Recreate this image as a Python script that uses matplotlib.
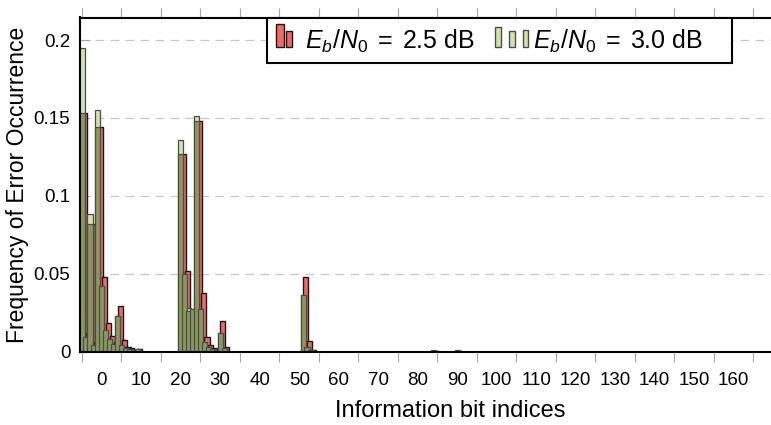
"""Error occurrence per information bit (two Eb/N0 points)"""

import numpy as np
import matplotlib
matplotlib.use('Agg')
import matplotlib.pyplot as plt
from matplotlib.patches import Rectangle

# Information bit index and error frequency for each SNR point
bit_idx = [0, 1, 2, 3, 4, 5, 6, 7, 8, 9, 10, 11, 12, 13, 14,
           25, 26, 27, 28, 29, 30, 31, 32, 33, 34, 35, 36,
           56, 57, 58, 89, 95]
freq_25db = [0.153, 0.012, 0.082, 0.006, 0.144, 0.048, 0.018, 0.010, 0.006, 0.029,
             0.0077, 0.003, 0.002, 0.0012, 0.0015,
             0.127, 0.052, 0.026, 0.027, 0.148, 0.0375, 0.0095, 0.004, 0.002, 0.001,
             0.0193, 0.003,
             0.048, 0.007, 0.001, 0.0006, 0.0006]
freq_30db = [0.195, 0.009, 0.088, 0.004, 0.155, 0.042, 0.014, 0.008, 0.005, 0.0225,
             0.004, 0.002, 0.0015, 0.001, 0.0015,
             0.136, 0.050, 0.028, 0.027, 0.151, 0.027, 0.006, 0.003, 0.0015, 0.001,
             0.012, 0.002,
             0.0365, 0.003, 0.0008, 0.0009, 0.0009]

xtick_labels = [str(v) for v in range(0, 170, 10)]
ytick_values = [0, 0.05, 0.1, 0.15, 0.2]
ytick_labels = ['0', '0.05', '0.1', '0.15', '0.2']

plt.rcParams['font.family'] = ['Liberation Sans', 'DejaVu Sans']
plt.rcParams['mathtext.fontset'] = 'custom'
plt.rcParams['mathtext.rm'] = 'Liberation Sans'
plt.rcParams['mathtext.it'] = 'Liberation Sans:italic'

RED = '#f06a6a'
RED_EDGE = '#1e1616'
GREEN = '#cfe3aa'
OLIVE = '#8a985c'
GREEN_EDGE = '#4c4c4c'

fig = plt.figure(figsize=(7.71, 4.25), dpi=100)
W, H = 771, 425


def px_box(x0, y0, x1, y1):
    """figure-fraction rect from pixel corners (top-left origin)"""
    return [x0 / W, 1 - y1 / H, (x1 - x0) / W, (y1 - y0) / H]


ax = fig.add_axes(px_box(80, 17.5, 776, 351.5))

x = np.array(bit_idx, dtype=float)
g = np.array(freq_30db)
r = np.array(freq_25db)
bw = 1.35

# 2.5 dB bars sit behind; 3.0 dB bars on top, darker where both overlap
ax.bar(x + 0.65, r, width=bw * 0.95, color=RED, edgecolor=RED_EDGE,
       linewidth=1.0, zorder=2)
ax.bar(x, g, width=bw, color=GREEN, edgecolor=GREEN_EDGE, linewidth=0.9, zorder=3)
ax.bar(x, np.minimum(g, r), width=bw, color=OLIVE, edgecolor=GREEN_EDGE,
       linewidth=0.9, zorder=4)

ax.set_xlim(-0.5, 175.7)
ax.set_ylim(0, 0.2145)

# tick marks every 10 bits, labels sit between the marks
ax.set_xticks(np.arange(0, 180, 10))
ax.set_xticklabels([])
ax.set_xticks(np.arange(5, 170, 10), minor=True)
ax.set_xticklabels(xtick_labels, minor=True)
ax.tick_params(axis='x', which='major', direction='out', length=7, width=0.8,
               color='#a8a8a8', top=True)
ax.tick_params(axis='x', which='minor', length=0, pad=15, labelsize=13.5)

ax.set_yticks(ytick_values)
ax.set_yticklabels(ytick_labels)
ax.tick_params(axis='y', direction='in', length=7, width=0.8, color='#a8a8a8',
               pad=7, labelsize=13.5)

ax.yaxis.grid(True, linestyle=(0, (7, 5)), color='#c8c8c8', linewidth=0.9, zorder=0)
ax.set_axisbelow(True)

for side in ['left', 'top', 'bottom', 'right']:
    ax.spines[side].set_linewidth(1.5)
    ax.spines[side].set_color('black')
    ax.spines[side].set_zorder(5)

ax.set_xlabel('Information bit indices', fontsize=17)
ax.set_ylabel('Frequency of Error Occurrence', fontsize=16.5)
ax.xaxis.set_label_coords((450 - 80) / 696, (351.5 - 400) / 334)
ax.yaxis.set_label_coords((29 - 80) / 696, 0.5)

# legend box drawn by hand so the bar glyphs can differ per entry
fig.add_artist(Rectangle(px_box(267, 18, 732, 63)[:2], (732 - 267) / W, (63 - 18) / H,
                         transform=fig.transFigure, facecolor='white',
                         edgecolor='black', linewidth=1.5, zorder=10))
for x0, x1, top in [(276, 284, 24), (285.5, 292, 31.5)]:
    fig.add_artist(Rectangle(px_box(x0, top, x1, 46.7)[:2], (x1 - x0) / W,
                             (46.7 - top) / H, transform=fig.transFigure,
                             facecolor=RED, edgecolor=RED_EDGE, linewidth=1.0, zorder=11))
for x0, x1, top in [(495, 500.7, 26.7), (509.3, 515, 31.5), (522.7, 528.3, 30)]:
    fig.add_artist(Rectangle(px_box(x0, top, x1, 46.7)[:2], (x1 - x0) / W,
                             (46.7 - top) / H, transform=fig.transFigure,
                             facecolor=GREEN, edgecolor=GREEN_EDGE, linewidth=1.0, zorder=11))
fig.text(305 / W, 1 - 41 / H, r'$E_b/N_0\;=\;2.5$ dB', fontsize=18, va='center',
         ha='left', zorder=12)
fig.text(533 / W, 1 - 41 / H, r'$E_b/N_0\;=\;3.0$ dB', fontsize=18, va='center',
         ha='left', zorder=12)

fig.savefig('out.png', dpi=100)
plt.close(fig)
